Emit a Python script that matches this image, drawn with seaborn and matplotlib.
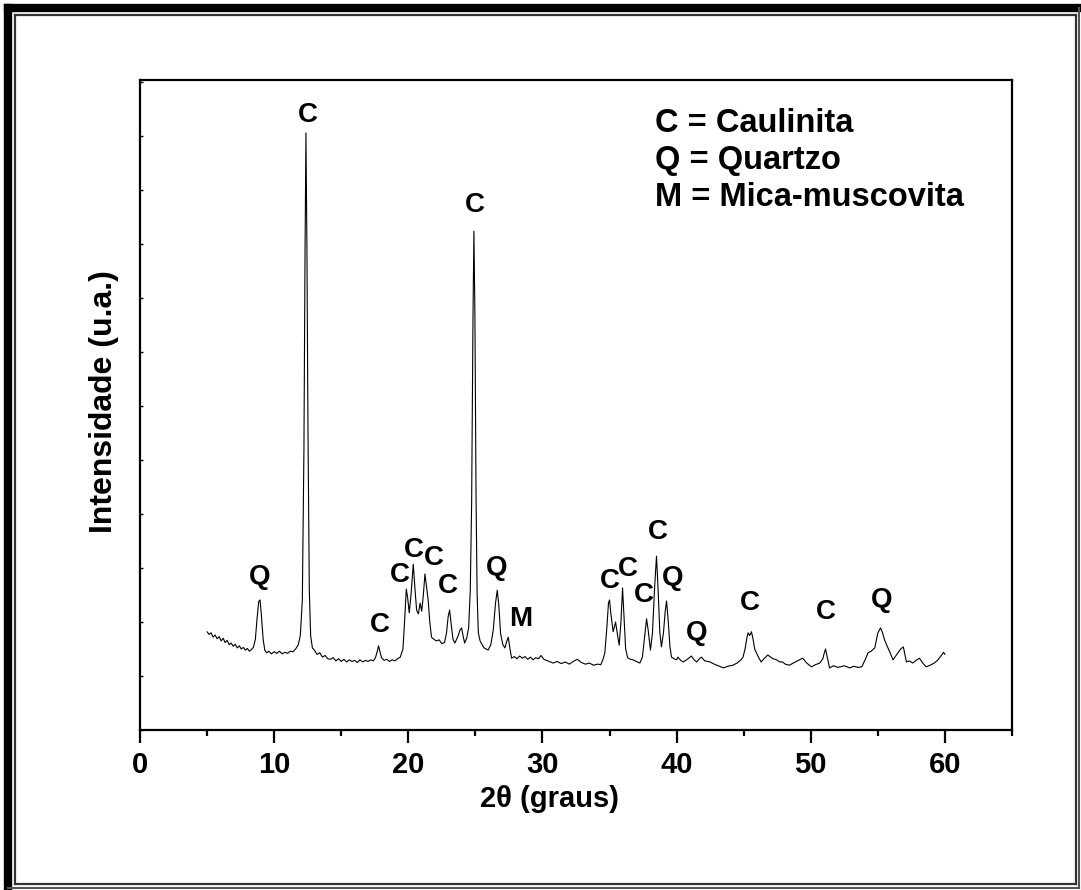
import matplotlib
matplotlib.use("Agg")
import matplotlib.pyplot as plt
from matplotlib.lines import Line2D
from matplotlib.ticker import MultipleLocator, NullFormatter
import seaborn as sns

# ===============================
# Dados (lidos do difratograma)
# ===============================
two_theta = [
    5.00, 5.15, 5.30, 5.45, 5.60, 5.75, 5.90, 6.05, 6.20, 6.35, 6.50, 6.65, 6.80, 6.95,
    7.10, 7.25, 7.40, 7.55, 7.70, 7.85, 8.00, 8.15, 8.30, 8.45, 8.60, 8.72, 8.85, 8.95,
    9.05, 9.18, 9.30, 9.45, 9.60, 9.80, 10.00, 10.20, 10.40, 10.60, 10.80, 11.00, 11.20,
    11.40, 11.60, 11.80, 11.95, 12.10, 12.22, 12.30, 12.37, 12.44, 12.52, 12.62, 12.72,
    12.85, 13.00, 13.20, 13.40, 13.60, 13.80, 14.00, 14.20, 14.40, 14.60, 14.80, 15.00,
    15.20, 15.40, 15.60, 15.80, 16.00, 16.20, 16.40, 16.60, 16.80, 17.00, 17.20, 17.40,
    17.55, 17.68, 17.78, 17.88, 18.00, 18.20, 18.40, 18.60, 18.80, 19.00, 19.20, 19.40,
    19.60, 19.72, 19.85, 19.95, 20.07, 20.20, 20.37, 20.50, 20.62, 20.75, 20.88, 21.00,
    21.12, 21.24, 21.36, 21.48, 21.60, 21.73, 21.90, 22.10, 22.30, 22.50, 22.70, 22.85,
    22.97, 23.08, 23.20, 23.33, 23.47, 23.60, 23.72, 23.85, 23.97, 24.08, 24.20, 24.35,
    24.50, 24.62, 24.72, 24.82, 24.89, 24.96, 25.05, 25.13, 25.22, 25.35, 25.50, 25.65,
    25.80, 25.95, 26.15, 26.33, 26.50, 26.63, 26.75, 26.88, 27.05, 27.20, 27.35, 27.45,
    27.58, 27.70, 27.90, 28.10, 28.30, 28.50, 28.70, 28.90, 29.10, 29.30, 29.50, 29.70,
    29.90, 30.10, 30.30, 30.50, 30.80, 31.10, 31.40, 31.70, 32.00, 32.30, 32.60, 32.90,
    33.20, 33.50, 33.80, 34.10, 34.35, 34.50, 34.65, 34.80, 34.92, 35.00, 35.10, 35.27,
    35.45, 35.60, 35.72, 35.85, 35.97, 36.08, 36.20, 36.35, 36.55, 36.76, 37.00, 37.26,
    37.45, 37.62, 37.76, 37.88, 38.05, 38.20, 38.35, 38.50, 38.62, 38.75, 38.87, 39.02,
    39.15, 39.25, 39.38, 39.50, 39.62, 39.80, 40.00, 40.10, 40.30, 40.50, 40.80, 41.10,
    41.30, 41.50, 41.70, 41.85, 42.10, 42.50, 42.80, 43.10, 43.50, 43.80, 44.20, 44.50,
    44.80, 44.95, 45.10, 45.25, 45.33, 45.45, 45.58, 45.70, 45.82, 45.95, 46.10, 46.30,
    46.55, 46.80, 47.00, 47.20, 47.45, 47.70, 47.90, 48.10, 48.40, 48.70, 49.00, 49.40,
    49.70, 50.05, 50.35, 50.67, 50.90, 51.00, 51.10, 51.20, 51.40, 51.70, 52.00, 52.20,
    52.50, 52.90, 53.20, 53.50, 53.80, 54.05, 54.27, 54.50, 54.77, 54.90, 55.00, 55.20,
    55.35, 55.50, 55.70, 55.90, 56.13, 56.30, 56.50, 56.70, 56.90, 57.00, 57.13, 57.35,
    57.60, 57.85, 58.10, 58.35, 58.60, 58.90, 59.20, 59.45, 59.70, 59.90, 60.00,
]
intensity = [
    182, 177, 180, 172, 176, 169, 173, 165, 170, 162, 166, 158, 161, 155,
    159, 152, 156, 150, 153, 148, 151, 146, 149, 153, 168, 205, 238, 241,
    212, 168, 148, 143, 146, 141, 145, 142, 146, 141, 144, 142, 146,
    145, 150, 158, 175, 240, 520, 880, 1106, 900, 560, 260, 175,
    152, 148, 140, 143, 135, 138, 132, 131, 134, 128, 132, 127,
    131, 126, 130, 127, 129, 125, 130, 126, 129, 127, 130, 128,
    134, 145, 156, 146, 134, 129, 131, 127, 130, 128, 132, 135,
    150, 200, 261, 245, 217, 250, 307, 260, 222, 215, 235, 220,
    250, 289, 265, 241, 200, 172, 168, 165, 167, 160, 162, 180,
    210, 222, 195, 168, 161, 168, 175, 185, 189, 175, 161, 170,
    190, 260, 420, 760, 924, 780, 430, 250, 180, 165, 158, 152,
    150, 148, 158, 185, 235, 259, 230, 178, 158, 152, 165, 172,
    150, 133, 136, 132, 137, 133, 136, 131, 135, 130, 134, 132,
    138, 131, 129, 127, 124, 127, 123, 126, 122, 127, 131, 125,
    122, 124, 120, 122, 121, 130, 143, 190, 235, 241, 215, 182,
    200, 175, 157, 200, 263, 210, 150, 134, 131, 130, 127, 124,
    135, 175, 206, 185, 148, 180, 260, 322, 260, 180, 154, 180,
    220, 239, 200, 155, 135, 132, 130, 135, 129, 126, 131, 137,
    130, 126, 132, 135, 128, 126, 122, 119, 115, 118, 120, 124,
    130, 135, 150, 172, 180, 175, 182, 168, 150, 143, 135, 126,
    133, 139, 135, 132, 130, 126, 126, 122, 120, 124, 128, 133,
    124, 117, 121, 124, 132, 142, 150, 138, 115, 119, 116, 117,
    119, 115, 118, 116, 117, 130, 143, 146, 152, 168, 180, 189,
    180, 167, 155, 144, 130, 136, 143, 150, 154, 142, 126, 128,
    124, 129, 133, 124, 117, 120, 124, 129, 137, 144, 140,
]

# identificacao dos picos
peak_text = ['Q', 'C', 'C', 'C', 'C', 'C', 'C', 'C', 'Q', 'M',
             'C', 'C', 'C', 'C', 'Q', 'Q', 'C', 'C', 'Q']
peak_x = [8.94, 12.52, 17.88, 19.35, 20.42, 21.91, 22.98, 24.96, 26.57, 28.39,
          35.02, 36.37, 37.58, 38.62, 39.72, 41.49, 45.45, 51.11, 55.26]
peak_y = [284, 1139, 195, 287, 333, 318, 266, 972, 300, 206,
          276, 299, 250, 366, 281, 180, 235, 219, 240]

legend_lines = ['C = Caulinita', 'Q = Quartzo', 'M = Mica-muscovita']

# ===============================
# Estilo
# ===============================
sns.set_theme(style="ticks")
plt.rcParams['font.family'] = ['Liberation Sans', 'DejaVu Sans']
plt.rcParams['font.weight'] = 'bold'
plt.rcParams['text.color'] = 'black'
plt.rcParams['axes.labelcolor'] = 'black'
plt.rcParams['xtick.color'] = 'black'
plt.rcParams['ytick.color'] = 'black'

W, H = 1081, 890
fig = plt.figure(figsize=(W / 100, H / 100), dpi=100)
ax = fig.add_axes([140 / W, 1 - 730 / H, 872 / W, 650 / H])

sns.lineplot(x=two_theta, y=intensity, ax=ax, color='black', linewidth=0.8)

ax.set_xlim(0, 65)
ax.set_ylim(0, 1204)
ax.xaxis.set_major_locator(MultipleLocator(10))
ax.xaxis.set_minor_locator(MultipleLocator(5))
ax.yaxis.set_major_locator(MultipleLocator(100))
ax.yaxis.set_major_formatter(NullFormatter())

for s in ax.spines.values():
    s.set_linewidth(1.6)
    s.set_color('black')

ax.tick_params(axis='x', which='major', direction='out', length=9, width=1.6,
               labelsize=21, pad=6, colors='black')
ax.tick_params(axis='x', which='minor', direction='out', length=4.5, width=1.6)
ax.tick_params(axis='y', which='major', direction='in', length=2.5, width=1.0)
for lab in ax.get_xticklabels():
    lab.set_fontweight('bold')
ax.set_xlabel('')
ax.set_ylabel('')

# letras dos picos
for t, x, y in zip(peak_text, peak_x, peak_y):
    ax.text(x, y, t, ha='center', va='center', fontsize=20, fontweight='bold',
            color='black')

for i, line in enumerate(legend_lines):
    fig.text(655 / W, 1 - (124 + 37 * i) / H, line, ha='left', va='center',
             fontsize=23.5, fontweight='bold', color='black')

fig.text(549 / W, 1 - 799 / H, '2θ (graus)', ha='center', va='center',
         fontsize=21, fontweight='bold', color='black')
fig.text(104 / W, 1 - 402 / H, 'Intensidade (u.a.)', ha='center', va='center',
         rotation=90, fontsize=23, fontweight='bold', color='black')

# moldura
def px_line(x0, y0, x1, y1, lw, color='black'):
    fig.add_artist(Line2D([x0 / W, x1 / W], [1 - y0 / H, 1 - y1 / H],
                          transform=fig.transFigure, lw=lw, color=color,
                          solid_capstyle='projecting'))

px_line(8, 8, 1079, 8, 6)
px_line(8, 8, 8, 888, 6)
px_line(1079, 8, 1079, 888, 1.5, '#555555')
px_line(8, 888, 1079, 888, 1.5, '#555555')
px_line(15, 15, 1076, 15, 1.6, '#333333')
px_line(15, 15, 15, 884, 1.6, '#333333')
px_line(1076, 15, 1076, 884, 1.6, '#333333')
px_line(15, 884, 1076, 884, 1.6, '#333333')

fig.savefig('out.png', dpi=100)
